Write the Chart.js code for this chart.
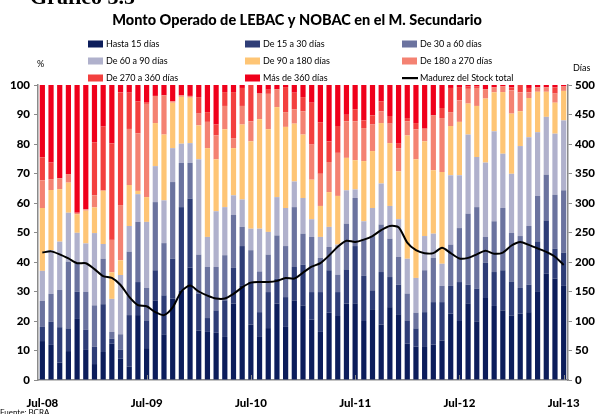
<!DOCTYPE html>
<html>
<head>
<meta charset="utf-8">
<script src="https://cdn.jsdelivr.net/npm/chart.js@4.4.1/dist/chart.umd.min.js"></script>
<style>
  html, body { margin: 0; padding: 0; background: #fff; }
  #wrap { width: 598px; height: 414px; position: relative; }
</style>
</head>
<body>
<div id="wrap"><canvas id="myChart" width="598" height="414"></canvas></div>
<script>
// meses (jul-08 a jul-13)
var meses = ['Jul-08','Ago-08','Sep-08','Oct-08','Nov-08','Dic-08','Ene-09','Feb-09','Mar-09','Abr-09','May-09','Jun-09',
  'Jul-09','Ago-09','Sep-09','Oct-09','Nov-09','Dic-09','Ene-10','Feb-10','Mar-10','Abr-10','May-10','Jun-10',
  'Jul-10','Ago-10','Sep-10','Oct-10','Nov-10','Dic-10','Ene-11','Feb-11','Mar-11','Abr-11','May-11','Jun-11',
  'Jul-11','Ago-11','Sep-11','Oct-11','Nov-11','Dic-11','Ene-12','Feb-12','Mar-12','Abr-12','May-12','Jun-12',
  'Jul-12','Ago-12','Sep-12','Oct-12','Nov-12','Dic-12','Ene-13','Feb-13','Mar-13','Abr-13','May-13','Jun-13','Jul-13'];

// participacion (%) por plazo
var hasta15 = [13.2,11.9,5.9,9.8,20.7,10.2,5.4,9.5,12.3,7.2, 4.5,22,10.8,27,15.5,27.6,30.2,38.1,16.8,16.3,
  16,14.6,25.9,31.9,18.8,14.6,17.6,25.9,18,27, 25.3,20.5,16.3,22.8,21.7,25.9,26,20,24,18.8,
  24.7,22.3,12.3,11.3,11.2,12,13.4,22.5,20,26, 19.9,27.8,25.1,23.6,21.9,22.5,23,30.1,36,34.4,31.9];
var de15a30 = [4.8,7.9,12,7.7,9.2,6.8,5.9,16.2,1.7,3.1, 17.5,11.2,9.4,10.2,13.2,13.5,28.4,23.4,12.5,4.7,
  7.6,12.4,12.1,13.5,14.4,8.4,12.2,8.5,10.1,11.3, 13.8,9.3,13.5,14.4,8.1,11.6,19.4,15.3,6.4,17.8,
  10.2,10,7.9,6.2,11.8,14.4,13,9.4,13.2,6.3, 11.1,12,11.5,13.6,11.5,8.7,9.3,16.9,18.1,10.1,11.3];
var de30a60 = [8.8,9.4,12.6,22.6,10,12.9,14,15.4,2.3,5.2, 21.5,20.4,11,23.1,17.7,26,15,12.1,13.2,17.3,
  14.7,15.3,18,6.5,10.8,13.8,12.7,14.6,17.3,20.3, 10.5,18.7,11.6,7.9,5.9,15.5,16.3,12.6,18.4,16.1,
  13,9.4,9.1,5.3,14.2,15,5.5,14,18.3,24.1, 27.6,8.7,17.2,21.1,16.5,17.6,19.9,15.4,15.5,18.3,21.1];
var de60a90 = [10.2,14.8,16.4,16.6,10,16.4,24.5,5,11.2,20.1, 8.7,9.4,22.4,12.2,14.5,11.5,6.5,6.7,32.3,10.2,
  18.9,16.3,6.6,9.3,7.3,14.5,7.7,13,12.9,8.7, 12.1,6,7.1,6.8,10.2,11.3,2.9,5.9,9.5,13.9,
  11.1,12.8,11.8,11.8,11.6,8.2,7.5,23.5,17.9,26.8, 17,25.2,30.5,18.4,20,30.5,30.1,21.6,19.6,20.7,23.7];
var de90a180 = [21.3,20.4,17.8,10.2,6.3,11.1,8.7,18.1,9,5, 13.9,1.1,8.4,14.6,22.3,15.4,15.9,15.4,11.5,30.1,
  17.6,26.4,16,25.4,29.6,37.1,34.8,30.5,27.5,19.6, 21.5,13.4,10.5,11.8,16.5,11,9.9,20.4,19.3,20.5,
  21.3,16.2,41.8,40.2,32.1,21.5,31.1,16.7,18.1,10.5, 17.3,21.7,13.2,20.9,20.4,11.8,13.3,13.7,8.5,10.5,10];
var de180a270 = [9.4,3.7,3.7,2.9,0.5,0.5,4.1,0,11,18.7, 19,19.5,31.6,9.2,13.3,0.5,0.5,0.6,4,8.9,
  8.1,7.9,3.4,6.3,6.8,8.7,12,6.1,5,4.9, 7.9,11.9,10.9,10.2,14.6,12.4,13.2,11.2,9,4,
  6.6,7.9,4.8,10.2,4.3,18.6,18.3,4.7,7.3,5, 6.1,3.2,1.7,2,7.9,6.4,1.9,1.5,1.5,3.1,1.5];
var de270a360 = [7.8,5.6,0,0,0,0,18,21.7,32.7,38.2, 12.3,10.8,0.6,0,0,0,0,0,5.6,3.3,
  3.7,4.7,15.6,6.1,12.3,0,1.4,0,8.5,5.6, 4.8,14.2,17.5,7,9.1,2.2,4.1,2.6,3.1,3.4,
  2.6,1.5,1.1,2.1,0,0,3.4,8.2,4.5,0.8, 0.5,0,0,0,1,2.5,1.5,0,0,2.1,0];
var mas360 = [24.5,26.3,31.6,30.2,43.3,42.1,19.4,14.1,19.8,2.5, 2.6,5.6,5.8,3.7,3.5,5.5,3.5,3.7,4.1,9.2,
  13.4,2.4,2.4,1,0,2.9,1.6,1.4,0.7,2.6, 4.1,6,12.6,19.1,13.9,10.1,8.2,12,10.3,5.5,
  10.5,19.9,11.2,12.9,14.8,10.3,7.8,1,0.7,0.5, 0.5,1.4,0.8,0.4,0.8,0,1,0.8,0.8,0.8,0.5];

// madurez del stock total (dias, eje derecho)
var madurez = [216,218,213,206,198,198,188,176,173,161, 141,127,125,115,110,123,150,160,150,143,
  138,138,146,157,165,166,166,168,173,172, 182,192,198,211,226,236,234,238,244,254,
  261,259,233,220,215,215,224,215,206,207, 213,219,214,216,228,234,229,223,217,209,195];

var etiquetasMes = ['Jul-08','Jul-09','Jul-10','Jul-11','Jul-12','Jul-13'];

var tramos = [
  ['Hasta 15 días', hasta15, '#0c1d5b'],
  ['De 15 a 30 días', de15a30, '#2e3d77'],
  ['De 30 a 60 días', de30a60, '#6b739f'],
  ['De 60 a 90 días', de60a90, '#b0b1cc'],
  ['De 90 a 180 días', de90a180, '#fec575'],
  ['De 180 a 270 días', de180a270, '#f48272'],
  ['De 270 a 360 días', de270a360, '#f3403f'],
  ['Más de 360 días', mas360, '#ef001b']
];

var datasets = tramos.map(function (t) {
  return {
    type: 'bar', label: t[0], data: t[1], backgroundColor: t[2],
    stack: 'plazo', yAxisID: 'y', order: 1,
    barPercentage: 0.6, categoryPercentage: 1
  };
});
datasets.push({
  type: 'line', label: 'Madurez del Stock total', data: madurez,
  yAxisID: 'y2', borderColor: '#000', backgroundColor: '#000',
  borderWidth: 2, pointRadius: 0, tension: 0.25, order: 0
});

var fuente = 'Lato, "DejaVu Sans", sans-serif';

// textos fuera del area del grafico: titulo, leyenda, unidades
var textos = {
  id: 'textos',
  afterDraw: function (chart) {
    var ctx = chart.ctx;
    ctx.save();
    ctx.fillStyle = '#000';
    ctx.textBaseline = 'alphabetic';
    ctx.font = 'bold 22px "Liberation Serif"';
    ctx.fillText('Gráfico 3.5', 30, 4);

    ctx.font = '900 14.5px ' + fuente;
    ctx.textAlign = 'center';
    ctx.textBaseline = 'middle';
    ctx.fillText('Monto Operado de LEBAC y NOBAC en el M. Secundario', 297, 20);

    ctx.textAlign = 'left';
    ctx.font = '9px ' + fuente;
    var colX = [88, 245, 402];
    var filaY = [44, 61, 78];
    chart.data.datasets.forEach(function (ds, i) {
      var x = colX[i % 3], y = filaY[Math.floor(i / 3)];
      if (ds.type === 'line') {
        ctx.fillStyle = '#000';
        ctx.fillRect(x, y - 1, 16, 2.2);
      } else {
        ctx.fillStyle = ds.backgroundColor;
        ctx.fillRect(x, y - 3.5, 15, 7);
      }
      ctx.fillStyle = '#000';
      ctx.fillText(ds.label, x + 18, y + 0.5);
    });

    ctx.fillText('%', 37, 64);
    ctx.fillText('Días', 573, 68);
    ctx.font = '8px ' + fuente;
    ctx.fillText('Fuente: BCRA', 0, 412);

    // marcas cortas en el eje x para los julios
    var xs = chart.scales.x, base = chart.chartArea.bottom;
    ctx.strokeStyle = '#8a8a8a';
    ctx.lineWidth = 1;
    meses.forEach(function (m, i) {
      if (i > 0 && etiquetasMes.indexOf(m) >= 0) {
        var px = Math.round(xs.getPixelForValue(i)) + 0.5;
        ctx.beginPath();
        ctx.moveTo(px, base);
        ctx.lineTo(px, base - 5);
        ctx.stroke();
      }
    });
    ctx.restore();
  }
};

var ctx = document.getElementById('myChart').getContext('2d');
var myChart = new Chart(ctx, {
  data: { labels: meses, datasets: datasets },
  options: {
    responsive: false,
    animation: false,
    layout: { padding: { top: 85, left: 0, right: 0, bottom: 0 } },
    plugins: { legend: { display: false }, tooltip: { enabled: false }, title: { display: false } },
    scales: {
      x: {
        stacked: true,
        offset: true,
        grid: { display: false },
        border: { color: '#8a8a8a', width: 1.5 },
        ticks: {
          autoSkip: false, maxRotation: 0, padding: 8, color: '#000',
          font: { family: fuente, size: 11.5, weight: '900' },
          callback: function (v, i) {
            var m = meses[i];
            return etiquetasMes.indexOf(m) >= 0 ? m : '';
          }
        },
        afterFit: function (s) { s.height = 34; }
      },
      y: {
        stacked: true, min: 0, max: 100,
        grid: { drawOnChartArea: false, tickLength: 4, color: '#8a8a8a' },
        border: { color: '#8a8a8a', width: 1.5 },
        ticks: { stepSize: 10, padding: 4, color: '#000', font: { family: fuente, size: 11.5, weight: '900' } },
        afterFit: function (s) { s.width = 38; }
      },
      y2: {
        position: 'right', min: 0, max: 500,
        grid: { drawOnChartArea: false, tickLength: 4, color: '#8a8a8a' },
        border: { color: '#8a8a8a', width: 1.5 },
        ticks: { stepSize: 50, padding: 3, color: '#000', font: { family: fuente, size: 11.5, weight: '900' } },
        afterFit: function (s) { s.width = 30; }
      }
    }
  },
  plugins: [textos]
});
</script>
</body>
</html>
